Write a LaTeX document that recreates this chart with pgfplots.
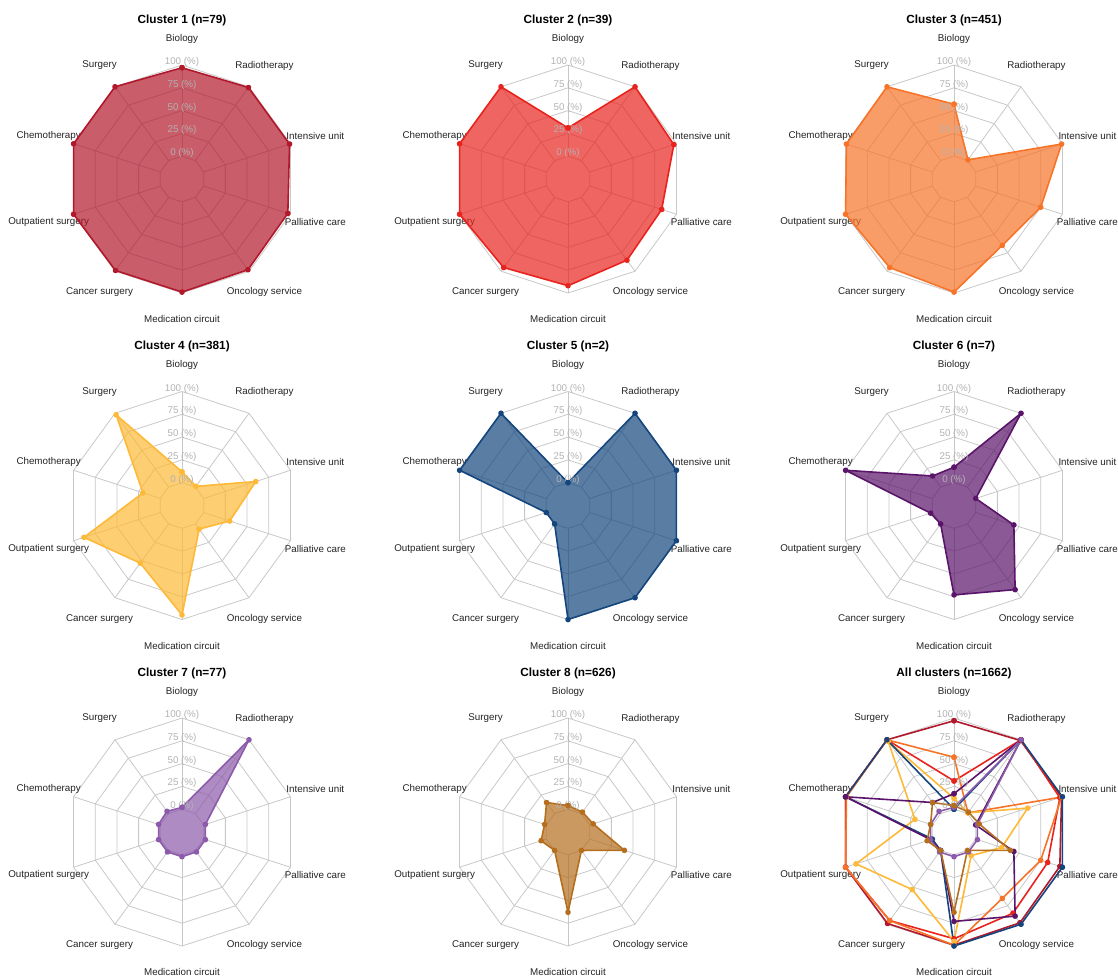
\documentclass[border=0pt]{standalone}
\usepackage{fontspec}
\setmainfont{Liberation Sans}
\usepackage{pgfplots}
\usepackage{pgfplotstable}
\pgfplotsset{compat=1.18}

\definecolor{c1}{RGB}{178,24,43}
\definecolor{c2}{RGB}{232,35,30}
\definecolor{c3}{RGB}{247,115,40}
\definecolor{c4}{RGB}{253,185,55}
\definecolor{c5}{RGB}{20,70,125}
\definecolor{c6}{RGB}{90,20,105}
\definecolor{c7}{RGB}{140,90,170}
\definecolor{c8}{RGB}{180,110,30}
\definecolor{gridc}{RGB}{200,200,200}
\definecolor{ringtxt}{RGB}{178,178,178}
\definecolor{labtxt}{RGB}{35,35,35}

% angle (deg), value (%) per cluster; first row repeated to close the polygon
\pgfplotstableread{
a    c1  c2  c3  c4  c5  c6  c7 c8
90   97  31  57  12  0   17  2  4
54   99  100 1   1   100 100 100 2
18   99  97  99  60  100 0   2  4
-18  97  83  75  30  100 44  2  40
-54  98  85  65  7   100 89  2  0
-90  99  92  99  95  100 73  2  63
-126 99  95  95  53  0   0   2  0
-162 100 100 100 88  0   2   2  6
162  100 100 99  20  100 100 2  2
126  100 100 100 98  100 15  3  15
90   97  31  57  12  0   17  2  4
}\data

\pgfplotsset{
  radar/.style={hide axis, x=1.14pt, y=1.14pt, xmin=-100, xmax=100,
    ymin=-100, ymax=100, clip=false, anchor=center},
}
\tikzset{
  lab/.style={text=labtxt, font=\fontsize{9.8}{11}\selectfont, inner sep=0pt},
  ringlab/.style={text=ringtxt, font=\fontsize{9.8}{11}\selectfont, inner sep=0pt, yshift=3pt},
  ttl/.style={text=black, font=\fontsize{11.8}{13}\selectfont\bfseries, inner sep=0pt},
}

\newcommand{\radargrid}{%
  \pgfplotsinvokeforeach{20,40,60,80,100}{%
    \addplot[gridc, line width=0.8pt, no marks] table[x expr={##1*cos(\thisrow{a})}, y expr={##1*sin(\thisrow{a})}] {\data};
  }%
  \pgfplotsinvokeforeach{90,54,18,-18,-54,-90,-126,-162,162,126}{%
    \draw[gridc, line width=0.8pt] (axis cs:{20*cos(##1)},{20*sin(##1)}) -- (axis cs:{100*cos(##1)},{100*sin(##1)});
  }%
}
\newcommand{\radarlabels}[1]{%
  \node[ttl] at (axis cs:0,139.5) {#1};
  \node[lab] at (axis cs:{123*cos(90)},{123*sin(90)}) {Biology};
  \node[lab] at (axis cs:{123*cos(54)},{123*sin(54)}) {Radiotherapy};
  \node[lab] at (axis cs:{123*cos(18)},{123*sin(18)}) {Intensive unit};
  \node[lab] at (axis cs:{123*cos(-18)},{123*sin(-18)}) {Palliative care};
  \node[lab] at (axis cs:{123*cos(-54)},{123*sin(-54)}) {Oncology service};
  \node[lab] at (axis cs:{123*cos(-90)},{123*sin(-90)}) {Medication circuit};
  \node[lab] at (axis cs:{123*cos(-126)},{123*sin(-126)}) {Cancer surgery};
  \node[lab] at (axis cs:{123*cos(-162)},{123*sin(-162)}) {Outpatient surgery};
  \node[lab] at (axis cs:{123*cos(162)},{123*sin(162)}) {Chemotherapy};
  \node[lab] at (axis cs:{123*cos(126)},{123*sin(126)}) {Surgery};
}
\newcommand{\ringlabels}{%
  \node[ringlab] at (axis cs:0,100) {100 (\%)};
  \node[ringlab] at (axis cs:0,80) {75 (\%)};
  \node[ringlab] at (axis cs:0,60) {50 (\%)};
  \node[ringlab] at (axis cs:0,40) {25 (\%)};
  \node[ringlab] at (axis cs:0,20) {0 (\%)};
}
\newcommand{\radarpoly}[1]{%
  \addplot[#1, line width=1.6pt, line join=round, fill=#1, fill opacity=0.7,
    mark=*, mark size=2pt, mark options={solid, fill=#1, fill opacity=1}]
    table[x expr={(20+0.8*\thisrow{#1})*cos(\thisrow{a})}, y expr={(20+0.8*\thisrow{#1})*sin(\thisrow{a})}] {\data};
}
\newcommand{\radarline}[1]{%
  \addplot[#1, line width=1.6pt, line join=round,
    mark=*, mark size=2pt, mark options={solid, fill=#1}]
    table[x expr={(20+0.8*\thisrow{#1})*cos(\thisrow{a})}, y expr={(20+0.8*\thisrow{#1})*sin(\thisrow{a})}] {\data};
}

\begin{document}
\begin{tikzpicture}
\useasboundingbox (0,0) rectangle (1118pt,-978pt);

\begin{axis}[radar, at={(182pt,-179pt)}]
  \radargrid \radarlabels{Cluster 1 (n=79)} \radarpoly{c1} \ringlabels
\end{axis}
\begin{axis}[radar, at={(568pt,-179pt)}]
  \radargrid \radarlabels{Cluster 2 (n=39)} \radarpoly{c2} \ringlabels
\end{axis}
\begin{axis}[radar, at={(954pt,-179pt)}]
  \radargrid \radarlabels{Cluster 3 (n=451)} \radarpoly{c3} \ringlabels
\end{axis}

\begin{axis}[radar, at={(182pt,-505.5pt)}]
  \radargrid \radarlabels{Cluster 4 (n=381)} \radarpoly{c4} \ringlabels
\end{axis}
\begin{axis}[radar, at={(568pt,-505.5pt)}]
  \radargrid \radarlabels{Cluster 5 (n=2)} \radarpoly{c5} \ringlabels
\end{axis}
\begin{axis}[radar, at={(954pt,-505.5pt)}]
  \radargrid \radarlabels{Cluster 6 (n=7)} \radarpoly{c6} \ringlabels
\end{axis}

\begin{axis}[radar, at={(182pt,-832pt)}]
  \radargrid \radarlabels{Cluster 7 (n=77)} \radarpoly{c7} \ringlabels
\end{axis}
\begin{axis}[radar, at={(568pt,-832pt)}]
  \radargrid \radarlabels{Cluster 8 (n=626)} \radarpoly{c8} \ringlabels
\end{axis}
\begin{axis}[radar, at={(954pt,-832pt)}]
  \radargrid \radarlabels{All clusters (n=1662)}
  \radarline{c1} \radarline{c2} \radarline{c3} \radarline{c4}
  \radarline{c5} \radarline{c6} \radarline{c7} \radarline{c8}
  \ringlabels
\end{axis}
\end{tikzpicture}
\end{document}
